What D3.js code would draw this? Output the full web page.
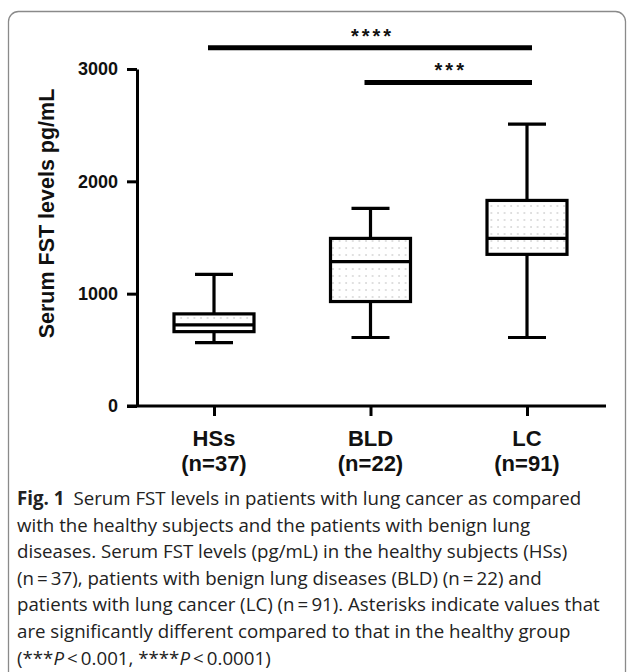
<!DOCTYPE html>
<html>
<head>
<meta charset="utf-8">
<script src="https://cdn.jsdelivr.net/npm/d3@7"></script>
<style>
  body { margin: 0; background: #fff; }
  svg { display: block; }
  .chart text { font-family: "Liberation Sans", Arial, sans-serif; font-weight: bold; fill: #111; }
  .caption text { font-family: "Open Sans", sans-serif; fill: #222; }
</style>
</head>
<body>
<svg id="fig" width="630" height="672"></svg>
<script>
// group summary values (pg/mL)
const groups = ["HSs", "BLD", "LC"];
const groupN = ["(n=37)", "(n=22)", "(n=91)"];
const whiskerMin = [565, 610, 610];
const q1 = [662, 930, 1350];
const median = [722, 1285, 1492];
const q3 = [820, 1492, 1830];
const whiskerMax = [1172, 1760, 2510];

const yTicks = [0, 1000, 2000, 3000];

// significance brackets: from group, to group, label
const sigFrom = ["HSs", "BLD"];
const sigTo = ["LC", "LC"];
const sigLabel = ["****", "***"];
const sigLevel = [3190, 2880];

const captionLines = [
  "Serum FST levels in patients with lung cancer as compared",
  "with the healthy subjects and the patients with benign lung",
  "diseases. Serum FST levels (pg/mL) in the healthy subjects (HSs)",
  "(n\u2009=\u200937), patients with benign lung diseases (BLD) (n\u2009=\u200922) and",
  "patients with lung cancer (LC) (n\u2009=\u200991). Asterisks indicate values that",
  "are significantly different compared to that in the healthy group",
];

let svg = d3.select("#fig"),
  margin = { left: 137, right: 24, top: 69, bottom: 266 },
  width = 630,
  height = 672;

// frame
svg.append("rect")
  .attr("x", 8.5).attr("y", 11.5)
  .attr("width", 617).attr("height", 700)
  .attr("rx", 10)
  .attr("fill", "none")
  .attr("stroke", "#8a8a8a")
  .attr("stroke-width", 1.3);

const defs = svg.append("defs");
const pat = defs.append("pattern")
  .attr("id", "dots")
  .attr("patternUnits", "userSpaceOnUse")
  .attr("width", 6.6).attr("height", 7)
  .attr("x", 2).attr("y", 2);
pat.append("circle").attr("cx", 1).attr("cy", 1).attr("r", 0.75).attr("fill", "#b5b5b5");

const chart = svg.append("g").classed("chart", true);

const yScale = d3.scaleLinear()
  .domain([0, 3000])
  .range([height - margin.bottom, margin.top]);

const xScale = d3.scalePoint()
  .domain(groups)
  .range([214, 527]);

const plotRight = width - margin.right;

// y axis
chart.append("g")
  .attr("transform", `translate(${margin.left},0)`)
  .call(d3.axisLeft(yScale).tickValues(yTicks).tickFormat(d3.format("d")).tickSize(10).tickSizeOuter(0).tickPadding(9))
  .call((g) => {
    g.select(".domain").attr("stroke-width", 3).attr("stroke", "#000");
    g.selectAll(".tick line").attr("stroke-width", 3).attr("stroke", "#000");
    g.selectAll(".tick text").attr("font-size", 18).attr("fill", "#111")
      .attr("font-family", "Liberation Sans, Arial, sans-serif").attr("font-weight", "bold");
  });

// x axis
chart.append("g")
  .attr("transform", `translate(0,${yScale(0)})`)
  .call(d3.axisBottom(xScale).tickSize(10).tickSizeOuter(0).tickFormat(""))
  .call((g) => {
    g.select(".domain")
      .attr("d", `M${margin.left - 10},0H${plotRight}`)
      .attr("stroke-width", 3).attr("stroke", "#000");
    g.selectAll(".tick line").attr("stroke-width", 3).attr("stroke", "#000");
  });

// category labels
const catLabels = chart.append("g").selectAll("text")
  .data(groups)
  .join("text")
  .attr("text-anchor", "middle")
  .attr("font-size", 22)
  .attr("x", (d) => xScale(d));
catLabels.append("tspan").attr("x", (d) => xScale(d)).attr("y", 446).text((d) => d);
catLabels.append("tspan").attr("x", (d) => xScale(d)).attr("y", 471).text((d, i) => groupN[i]);

// boxes
const boxW = 80, capW = 38;
const boxes = chart.append("g").selectAll("g")
  .data(groups)
  .join("g");

boxes.append("line")
  .attr("x1", (d) => xScale(d)).attr("x2", (d) => xScale(d))
  .attr("y1", (d, i) => yScale(whiskerMin[i])).attr("y2", (d, i) => yScale(q1[i]));
boxes.append("line")
  .attr("x1", (d) => xScale(d)).attr("x2", (d) => xScale(d))
  .attr("y1", (d, i) => yScale(q3[i])).attr("y2", (d, i) => yScale(whiskerMax[i]));
boxes.append("line")
  .attr("x1", (d) => xScale(d) - capW / 2).attr("x2", (d) => xScale(d) + capW / 2)
  .attr("y1", (d, i) => yScale(whiskerMin[i])).attr("y2", (d, i) => yScale(whiskerMin[i]));
boxes.append("line")
  .attr("x1", (d) => xScale(d) - capW / 2).attr("x2", (d) => xScale(d) + capW / 2)
  .attr("y1", (d, i) => yScale(whiskerMax[i])).attr("y2", (d, i) => yScale(whiskerMax[i]));
boxes.append("rect")
  .attr("x", (d) => xScale(d) - boxW / 2)
  .attr("width", boxW)
  .attr("y", (d, i) => yScale(q3[i]))
  .attr("height", (d, i) => yScale(q1[i]) - yScale(q3[i]))
  .attr("fill", "url(#dots)");
boxes.append("line")
  .attr("x1", (d) => xScale(d) - boxW / 2).attr("x2", (d) => xScale(d) + boxW / 2)
  .attr("y1", (d, i) => yScale(median[i])).attr("y2", (d, i) => yScale(median[i]));
boxes.selectAll("line").attr("stroke", "#000").attr("stroke-width", 3.2);
boxes.selectAll("rect").attr("stroke", "#000").attr("stroke-width", 3.2);

// significance bars
const sig = chart.append("g").selectAll("g")
  .data(sigLabel)
  .join("g");
sig.append("line")
  .attr("x1", (d, i) => xScale(sigFrom[i]) - 6)
  .attr("x2", (d, i) => xScale(sigTo[i]) + 5)
  .attr("y1", (d, i) => yScale(sigLevel[i]))
  .attr("y2", (d, i) => yScale(sigLevel[i]))
  .attr("stroke", "#000")
  .attr("stroke-width", 5);
sig.append("text")
  .attr("x", (d, i) => (xScale(sigFrom[i]) + xScale(sigTo[i])) / 2 + 2)
  .attr("y", (d, i) => yScale(sigLevel[i]) - 5)
  .attr("text-anchor", "middle")
  .attr("font-size", 20)
  .attr("letter-spacing", 3)
  .text((d) => d);

// y axis title
chart.append("text")
  .attr("transform", `translate(54,${(yScale(0) + yScale(3000)) / 2 - 24}) rotate(-90)`)
  .attr("text-anchor", "middle")
  .attr("font-size", 21.5)
  .text("Serum FST levels pg/mL");

// caption
const caption = svg.append("g").classed("caption", true);
const lineH = 26.6, capTop = 505, capSize = 18.7;
const first = caption.append("text")
  .attr("x", 17).attr("y", capTop).attr("font-size", capSize);
first.append("tspan").attr("font-weight", "bold").text("Fig. 1");
first.append("tspan").attr("dx", 9).text(captionLines[0]);
caption.selectAll(".cl")
  .data(captionLines.slice(1))
  .join("text")
  .attr("class", "cl")
  .attr("x", 17)
  .attr("y", (d, i) => capTop + (i + 1) * lineH)
  .attr("font-size", capSize)
  .text((d) => d);
const last = caption.append("text")
  .attr("x", 17).attr("y", capTop + 6 * lineH).attr("font-size", capSize);
last.append("tspan").text("(***");
last.append("tspan").attr("font-style", "italic").text("P");
last.append("tspan").text("\u2009<\u20090.001, ****");
last.append("tspan").attr("font-style", "italic").text("P");
last.append("tspan").text("\u2009<\u20090.0001)");
</script>
</body>
</html>
